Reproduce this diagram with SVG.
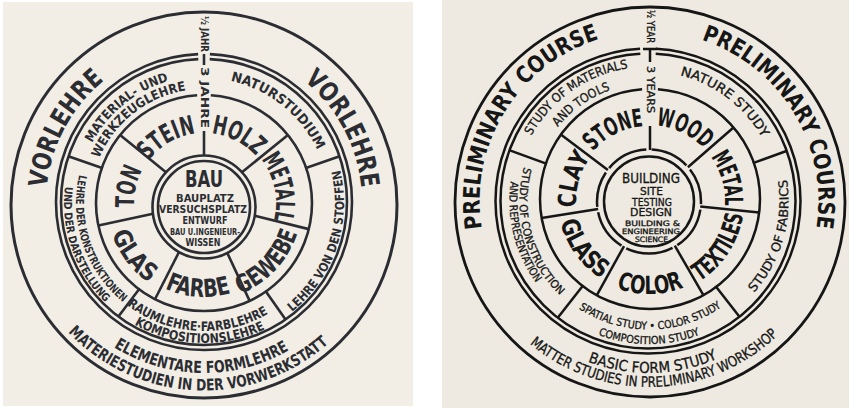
<svg xmlns="http://www.w3.org/2000/svg" xmlns:xlink="http://www.w3.org/1999/xlink" width="849" height="408" viewBox="0 0 849 408">
<style>
.gl{fill:none;stroke:#2b2d33;stroke-width:2.6}
.gt{font-family:"DejaVu Sans Condensed","DejaVu Sans",sans-serif;font-weight:bold;fill:#2b2d33;text-anchor:middle}
.el{fill:none;stroke:#161616;stroke-width:2.5}
.et{font-family:"DejaVu Sans Condensed","DejaVu Sans",sans-serif;fill:#161616;text-anchor:middle;stroke:#161616;stroke-width:0.3}
.b{font-weight:bold;stroke:none}
</style>
<defs>
<path id="cw158" d="M-157.40,-13.77A158,158 0 0 1 157.40,-13.77"/>
<path id="cw127" d="M-126.52,-11.07A127,127 0 0 1 126.52,-11.07"/>
<path id="cw114" d="M-113.57,-9.94A114,114 0 0 1 113.57,-9.94"/>
<path id="cw125" d="M-124.52,-10.90A125,125 0 0 1 124.52,-10.90"/>
<path id="cw70" d="M-69.73,-6.10A70,70 0 0 1 69.73,-6.10"/>
<path id="cw72" d="M-71.73,-6.28A72,72 0 0 1 71.73,-6.28"/>
<path id="cw169" d="M-168.85,-14.77A169.5,169.5 0 0 1 168.85,-14.77"/>
<path id="cw134" d="M-133.99,-11.72A134.5,134.5 0 0 1 133.99,-11.72"/>
<path id="cw117" d="M-117.05,-10.24A117.5,117.5 0 0 1 117.05,-10.24"/>
<path id="cw129" d="M-129.01,-11.29A129.5,129.5 0 0 1 129.01,-11.29"/>
<path id="cw75" d="M-74.71,-6.54A75,75 0 0 1 74.71,-6.54"/>
<path id="cw76" d="M-75.71,-6.62A76,76 0 0 1 75.71,-6.62"/>
<path id="cw73" d="M-72.72,-6.36A73,73 0 0 1 72.72,-6.36"/>
<path id="cc170" d="M-169.35,14.82A170,170 0 0 0 169.35,14.82"/>
<path id="cc187" d="M-186.79,16.34A187.5,187.5 0 0 0 186.79,16.34"/>
<path id="cc140" d="M-139.47,12.20A140,140 0 0 0 139.47,12.20"/>
<path id="cc128" d="M-127.51,11.16A128,128 0 0 0 127.51,11.16"/>
<path id="cc98" d="M-97.63,8.54A98,98 0 0 0 97.63,8.54"/>
<path id="cc94" d="M-93.64,8.19A94,94 0 0 0 93.64,8.19"/>
<path id="cc97" d="M-96.63,8.45A97,97 0 0 0 96.63,8.45"/>
<path id="cc172" d="M-171.34,14.99A172,172 0 0 0 171.34,14.99"/>
<path id="cc186" d="M-185.29,16.21A186,186 0 0 0 185.29,16.21"/>
<path id="cc139" d="M-138.97,12.16A139.5,139.5 0 0 0 138.97,12.16"/>
<path id="cc129" d="M-129.01,11.29A129.5,129.5 0 0 0 129.01,11.29"/>
<path id="cc128e" d="M-128.01,11.20A128.5,128.5 0 0 0 128.01,11.20"/>
<path id="cc143" d="M-142.46,12.46A143,143 0 0 0 142.46,12.46"/>
<path id="cc95" d="M-94.64,8.28A95,95 0 0 0 94.64,8.28"/>
<path id="cc93" d="M-92.65,8.11A93,93 0 0 0 92.65,8.11"/>
<path id="cc91" d="M-90.65,7.93A91,91 0 0 0 90.65,7.93"/>
</defs>
<rect width="849" height="408" fill="#ffffff"/>
<rect x="3" y="2" width="410" height="404" fill="#f2eee5"/>
<rect x="442" y="0" width="407" height="408" fill="#eeeae1"/>

<!-- LEFT (German) -->
<g id="left-diagram" transform="translate(204,203)">
  <g id="left-connectors" class="gl">
    <circle cx="0" cy="2" r="193" stroke-width="3"/>
    <circle cx="0" cy="-1" r="148" pathLength="360" stroke-dasharray="355.4 4.6" stroke-dashoffset="-2.3" transform="rotate(-90 0 -1)"/>
    <circle cx="0" cy="-1" r="143" pathLength="360" stroke-dasharray="355.4 4.6" stroke-dashoffset="-2.3" transform="rotate(-90 0 -1)"/>
    <circle cx="0" cy="0" r="108" pathLength="360" stroke-dasharray="352.6 7.4" stroke-dashoffset="-3.7" transform="rotate(-90)"/>
    <circle cx="0" cy="4" r="51.5"/>
    <circle cx="0" cy="4" r="46"/>
    <line x1="0" y1="-48.8" x2="0" y2="-108" transform="rotate(51)"/>
    <line x1="0" y1="-52.3" x2="0" y2="-108" transform="rotate(104)"/>
    <line x1="0" y1="-55.1" x2="0" y2="-108" transform="rotate(155)"/>
    <line x1="0" y1="-55" x2="0" y2="-108" transform="rotate(207)"/>
    <line x1="0" y1="-52.2" x2="0" y2="-108" transform="rotate(258)"/>
    <line x1="0" y1="-48.9" x2="0" y2="-108" transform="rotate(309)"/>
    <line x1="0" y1="-107" x2="0" y2="-143.5" transform="rotate(71)"/>
    <line x1="0" y1="-107" x2="0" y2="-142.5" transform="rotate(145)"/>
    <line x1="0" y1="-107" x2="0" y2="-142.5" transform="rotate(217)"/>
    <line x1="0" y1="-107" x2="0" y2="-143.5" transform="rotate(289)"/>
    <line x1="0" y1="-149" x2="0" y2="-138"/>
    <line x1="0" y1="-72" x2="0" y2="-47"/>
  </g>
  <g id="vorlehre-left"><text class="gt" font-size="26" transform="rotate(-61.8)"><textPath href="#cw158" startOffset="50%" textLength="125" lengthAdjust="spacingAndGlyphs">VORLEHRE</textPath></text></g>
  <g id="vorlehre-right"><text class="gt" font-size="26" transform="rotate(61.9)"><textPath href="#cw158" startOffset="50%" textLength="125" lengthAdjust="spacingAndGlyphs">VORLEHRE</textPath></text></g>
  <g id="formlehre">
    <text class="gt" font-size="16.5" transform="rotate(1)"><textPath href="#cc170" startOffset="50%" textLength="184" lengthAdjust="spacingAndGlyphs">ELEMENTARE FORMLEHRE</textPath></text>
    <text class="gt" font-size="16" transform="rotate(2.4)"><textPath href="#cc187" startOffset="50%" textLength="288" lengthAdjust="spacingAndGlyphs">MATERIESTUDIEN IN DER VORWERKSTATT</textPath></text>
  </g>
  <g id="materiallehre">
    <text class="gt" font-size="13" transform="rotate(-39)"><textPath href="#cw127" startOffset="50%" textLength="101" lengthAdjust="spacingAndGlyphs">MATERIAL- UND</textPath></text>
    <text class="gt" font-size="13" transform="rotate(-38)"><textPath href="#cw114" startOffset="50%" textLength="115" lengthAdjust="spacingAndGlyphs">WERKZEUGLEHRE</textPath></text>
  </g>
  <g id="naturstudium"><text class="gt" font-size="13.5" transform="rotate(38.6)"><textPath href="#cw125" startOffset="50%" textLength="115" lengthAdjust="spacingAndGlyphs">NATURSTUDIUM</textPath></text></g>
  <g id="stoffe"><text class="gt" font-size="12.5" transform="rotate(-71.3)"><textPath href="#cc140" startOffset="50%" textLength="158" lengthAdjust="spacingAndGlyphs">LEHRE VON DEN STOFFEN</textPath></text></g>
  <g id="konstruktion">
    <text class="gt" font-size="11" transform="rotate(71)"><textPath href="#cc128" startOffset="50%" textLength="142" lengthAdjust="spacingAndGlyphs">LEHRE DER KONSTRUKTIONEN</textPath></text>
    <text class="gt" font-size="11" transform="rotate(70.8)"><textPath href="#cc140" startOffset="50%" textLength="127" lengthAdjust="spacingAndGlyphs">UND DER DARSTELLUNG</textPath></text>
  </g>
  <g id="raumlehre">
    <text class="gt" font-size="13" transform="rotate(3.4)"><textPath href="#cc128" startOffset="50%" textLength="150" lengthAdjust="spacingAndGlyphs">RAUMLEHRE·FARBLEHRE</textPath></text>
    <text class="gt" font-size="13" transform="rotate(2)"><textPath href="#cc140" startOffset="50%" textLength="136" lengthAdjust="spacingAndGlyphs">KOMPOSITIONSLEHRE</textPath></text>
  </g>
  <g id="stein"><text class="gt" font-size="26" transform="rotate(-29.8)"><textPath href="#cw70" startOffset="50%" textLength="56" lengthAdjust="spacingAndGlyphs">STEIN</textPath></text></g>
  <g id="holz"><text class="gt" font-size="26" transform="rotate(27)"><textPath href="#cw70" startOffset="50%" textLength="51" lengthAdjust="spacingAndGlyphs">HOLZ</textPath></text></g>
  <g id="metall"><text class="gt" font-size="26" transform="rotate(78)"><textPath href="#cw72" startOffset="50%" textLength="64" lengthAdjust="spacingAndGlyphs">METALL</textPath></text></g>
  <g id="gewebe"><text class="gt" font-size="25" transform="rotate(-47)"><textPath href="#cc98" startOffset="50%" textLength="86" lengthAdjust="spacingAndGlyphs">GEWEBE</textPath></text></g>
  <g id="farbe"><text class="gt" font-size="25" transform="rotate(4)"><textPath href="#cc94" startOffset="50%" textLength="68" lengthAdjust="spacingAndGlyphs">FARBE</textPath></text></g>
  <g id="glas"><text class="gt" font-size="25" transform="rotate(53)"><textPath href="#cc97" startOffset="50%" textLength="63" lengthAdjust="spacingAndGlyphs">GLAS</textPath></text></g>
  <g id="ton"><text class="gt" font-size="26" transform="rotate(-77.7)"><textPath href="#cw70" startOffset="50%" textLength="39" lengthAdjust="spacingAndGlyphs">TON</textPath></text></g>
</g>
<g id="left-axis">
  <text class="gt" font-size="11" transform="translate(204,16) rotate(90)" style="text-anchor:start" dominant-baseline="central" textLength="36" lengthAdjust="spacingAndGlyphs">½ JAHR</text>
  <text class="gt" font-size="11" transform="translate(204,67) rotate(90)" style="text-anchor:start" dominant-baseline="central" textLength="61" lengthAdjust="spacingAndGlyphs">3 JAHRE</text>
</g>
<g id="bau">
  <text class="gt" x="204" y="187" font-size="23" textLength="38" lengthAdjust="spacingAndGlyphs">BAU</text>
  <text class="gt" x="205" y="202" font-size="10" textLength="58" lengthAdjust="spacingAndGlyphs">BAUPLATZ</text>
  <text class="gt" x="203" y="213" font-size="10" textLength="88" lengthAdjust="spacingAndGlyphs">VERSUCHSPLATZ</text>
  <text class="gt" x="205" y="224" font-size="10" textLength="45" lengthAdjust="spacingAndGlyphs">ENTWURF</text>
  <text class="gt" x="205" y="234.5" font-size="8.5" textLength="70" lengthAdjust="spacingAndGlyphs">BAU U.INGENIEUR-</text>
  <text class="gt" x="203" y="245.5" font-size="10" textLength="35" lengthAdjust="spacingAndGlyphs">WISSEN</text>
</g>

<!-- RIGHT (English) -->
<g id="right-diagram" transform="translate(649,201)">
  <g id="right-connectors" class="el">
    <circle cx="1" cy="1" r="195" stroke-width="2.8"/>
    <circle cx="-1" cy="0" r="152.5" pathLength="360" stroke-dasharray="354 6" stroke-dashoffset="-3" transform="rotate(-90 -1 0)"/>
    <circle cx="-1" cy="0" r="147.5" pathLength="360" stroke-dasharray="354 6" stroke-dashoffset="-3" transform="rotate(-90 -1 0)"/>
    <circle cx="1" cy="-2" r="110" pathLength="360" stroke-dasharray="351.6 8.4" stroke-dashoffset="-4.2" transform="rotate(-90 1 -2)"/>
    <circle cx="0" cy="0.5" r="52" pathLength="360" stroke-dasharray="43 6 41 6 48 6 53 6 46 6 40 6 47 6" stroke-dashoffset="-3" transform="rotate(-90 0 0.5)"/>
    <circle cx="0" cy="0.5" r="45"/>
    <line x1="0" y1="-51.5" x2="0" y2="-112" transform="rotate(49)"/>
    <line x1="0" y1="-51.5" x2="0" y2="-110.8" transform="rotate(96)"/>
    <line x1="0" y1="-51.5" x2="0" y2="-108.8" transform="rotate(150)"/>
    <line x1="0" y1="-51.5" x2="0" y2="-107.8" transform="rotate(209)"/>
    <line x1="0" y1="-51.5" x2="0" y2="-108.7" transform="rotate(261)"/>
    <line x1="0" y1="-51.5" x2="0" y2="-110.4" transform="rotate(307)"/>
    <line x1="0" y1="-110.6" x2="0" y2="-147" transform="rotate(70)"/>
    <line x1="0" y1="-108" x2="0" y2="-147.3" transform="rotate(142)"/>
    <line x1="0" y1="-106.8" x2="0" y2="-148.5" transform="rotate(218)"/>
    <line x1="0" y1="-108.7" x2="0" y2="-148.8" transform="rotate(290)"/>
    <line x1="-6" y1="-152" x2="8" y2="-152"/>
    <line x1="1" y1="-152" x2="1" y2="-139"/>
    <line x1="1" y1="-75" x2="1" y2="-51"/>
  </g>
  <g id="prelim-left"><text class="et b" font-size="23" transform="rotate(-58.2)"><textPath href="#cw169" startOffset="50%" textLength="243" lengthAdjust="spacingAndGlyphs">PRELIMINARY COURSE</textPath></text></g>
  <g id="prelim-right"><text class="et b" font-size="23" transform="rotate(58.6)"><textPath href="#cw169" startOffset="50%" textLength="240" lengthAdjust="spacingAndGlyphs">PRELIMINARY COURSE</textPath></text></g>
  <g id="basic-form">
    <text class="et" font-size="15" transform="rotate(-1.3)"><textPath href="#cc172" startOffset="50%" textLength="133" lengthAdjust="spacingAndGlyphs">BASIC FORM STUDY</textPath></text>
    <text class="et" font-size="14.5" transform="rotate(-2)"><textPath href="#cc186" startOffset="50%" textLength="272" lengthAdjust="spacingAndGlyphs">MATTER STUDIES IN PRELIMINARY WORKSHOP</textPath></text>
  </g>
  <g id="materials">
    <text class="et" font-size="12.5" transform="rotate(-35)"><textPath href="#cw134" startOffset="50%" textLength="122" lengthAdjust="spacingAndGlyphs">STUDY OF MATERIALS</textPath></text>
    <text class="et" font-size="12.5" transform="rotate(-35.1)"><textPath href="#cw117" startOffset="50%" textLength="65" lengthAdjust="spacingAndGlyphs">AND TOOLS</textPath></text>
  </g>
  <g id="nature"><text class="et" font-size="13" transform="rotate(37.3)"><textPath href="#cw129" startOffset="50%" textLength="106" lengthAdjust="spacingAndGlyphs">NATURE STUDY</textPath></text></g>
  <g id="fabrics"><text class="et" font-size="12.5" transform="rotate(-73.9)"><textPath href="#cc139" startOffset="50%" textLength="122" lengthAdjust="spacingAndGlyphs">STUDY OF FABRICS</textPath></text></g>
  <g id="construction">
    <text class="et" font-size="11" transform="rotate(74.3)"><textPath href="#cc129" startOffset="50%" textLength="140" lengthAdjust="spacingAndGlyphs">STUDY OF CONSTRUCTION</textPath></text>
    <text class="et" font-size="11" transform="rotate(76.1)"><textPath href="#cc139" startOffset="50%" textLength="107" lengthAdjust="spacingAndGlyphs">AND REPRESENTATION</textPath></text>
  </g>
  <g id="spatial">
    <text class="et" font-size="10.8" transform="rotate(-0.6)"><textPath href="#cc128e" startOffset="50%" textLength="151" lengthAdjust="spacingAndGlyphs">SPATIAL STUDY • COLOR STUDY</textPath></text>
    <text class="et" font-size="10.8"><textPath href="#cc143" startOffset="50%" textLength="104" lengthAdjust="spacingAndGlyphs">COMPOSITION STUDY</textPath></text>
  </g>
  <g id="stone"><text class="et b" font-size="25" transform="rotate(-26.4)"><textPath href="#cw75" startOffset="50%" textLength="58" lengthAdjust="spacingAndGlyphs">STONE</textPath></text></g>
  <g id="wood"><text class="et b" font-size="25" transform="rotate(26)"><textPath href="#cw76" startOffset="50%" textLength="55" lengthAdjust="spacingAndGlyphs">WOOD</textPath></text></g>
  <g id="metal"><text class="et b" font-size="25" transform="rotate(74)"><textPath href="#cw76" startOffset="50%" textLength="52" lengthAdjust="spacingAndGlyphs">METAL</textPath></text></g>
  <g id="textiles"><text class="et b" font-size="25" transform="rotate(-57)"><textPath href="#cc95" startOffset="50%" textLength="82" lengthAdjust="spacingAndGlyphs">TEXTILES</textPath></text></g>
  <g id="color"><text class="et b" font-size="25" transform="rotate(-0.7)"><textPath href="#cc93" startOffset="50%" textLength="69" lengthAdjust="spacingAndGlyphs">COLOR</textPath></text></g>
  <g id="glass"><text class="et b" font-size="25" transform="rotate(54.1)"><textPath href="#cc91" startOffset="50%" textLength="72" lengthAdjust="spacingAndGlyphs">GLASS</textPath></text></g>
  <g id="clay"><text class="et b" font-size="25" transform="rotate(-74.2)"><textPath href="#cw73" startOffset="50%" textLength="53" lengthAdjust="spacingAndGlyphs">CLAY</textPath></text></g>
</g>
<g id="right-axis">
  <text class="et" font-size="10" transform="translate(650,10) rotate(90)" style="text-anchor:start" dominant-baseline="central" textLength="33" lengthAdjust="spacingAndGlyphs">½ YEAR</text>
  <text class="et" font-size="10" transform="translate(650,66) rotate(90)" style="text-anchor:start" dominant-baseline="central" textLength="47" lengthAdjust="spacingAndGlyphs">3 YEARS</text>
</g>
<g id="building">
  <text class="et" x="651" y="183" font-size="14" textLength="58" lengthAdjust="spacingAndGlyphs">BUILDING</text>
  <text class="et" x="651.5" y="195" font-size="10" textLength="23" lengthAdjust="spacingAndGlyphs">SITE</text>
  <text class="et" x="652" y="205.5" font-size="10" textLength="40" lengthAdjust="spacingAndGlyphs">TESTING</text>
  <text class="et" x="651" y="216" font-size="10.5" textLength="42" lengthAdjust="spacingAndGlyphs">DESIGN</text>
  <text class="et" x="652.5" y="225.5" font-size="7.5" textLength="55" lengthAdjust="spacingAndGlyphs">BUILDING &amp;</text>
  <text class="et" x="651" y="233.5" font-size="7.5" textLength="58" lengthAdjust="spacingAndGlyphs">ENGINEERING</text>
  <text class="et" x="651.5" y="242" font-size="7.5" textLength="33" lengthAdjust="spacingAndGlyphs">SCIENCE</text>
</g>
</svg>
